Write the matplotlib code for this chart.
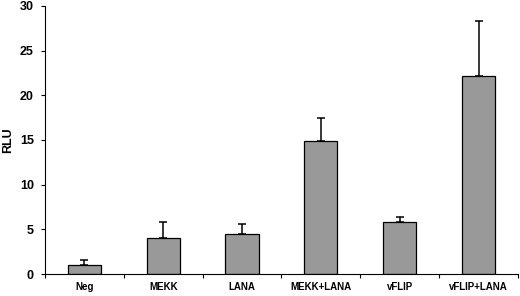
"""
RLU bar chart with upward error bars
"""
import numpy as np
import matplotlib
matplotlib.use('Agg')
import matplotlib.pyplot as plt

plt.rcParams['font.family'] = ['Liberation Sans', 'DejaVu Sans']

LABELS = ['Neg', 'MEKK', 'LANA', 'MEKK+LANA', 'vFLIP', 'vFLIP+LANA']
VALUES = [1.05, 4.0, 4.45, 14.9, 5.8, 22.2]
ERRORS = [0.5, 1.8, 1.1, 2.6, 0.6, 6.1]

X_POS = np.arange(len(LABELS))

FIG = plt.figure(figsize=(5.2, 2.96), dpi=100)
AX = FIG.add_axes([0.0865, 0.0743, 0.9095, 0.9057])

AX.bar(X_POS, VALUES, width=0.42, color='#999999', edgecolor='black',
       linewidth=0.9, zorder=2)
AX.errorbar(X_POS, VALUES, yerr=[np.zeros(len(ERRORS)), ERRORS], fmt='none',
            ecolor='black', elinewidth=1.1, capsize=3, capthick=1.1, zorder=1)

AX.set_xlim(-0.5, len(LABELS) - 0.5)
AX.set_ylim(0, 30)
AX.set_yticks(range(0, 31, 5))
AX.set_xticks(X_POS)
AX.set_xticklabels(LABELS, fontsize=7, fontweight='bold')
AX.tick_params(axis='x', length=0, pad=6)
AX.set_xticks(np.arange(-0.5, len(LABELS), 1), minor=True)
AX.tick_params(axis='x', which='minor', length=3, width=0.8, direction='out')
AX.tick_params(axis='y', length=3, width=0.8, direction='out', labelsize=9, pad=5)
for lab in AX.get_yticklabels():
    lab.set_fontweight('bold')

AX.spines['top'].set_visible(False)
AX.spines['right'].set_visible(False)
AX.spines['left'].set_linewidth(0.8)
AX.spines['bottom'].set_linewidth(0.8)

AX.set_ylabel('RLU', fontsize=9, fontweight='bold')
AX.yaxis.set_label_coords(-0.066, 0.5)

plt.savefig('out.png', dpi=100)
